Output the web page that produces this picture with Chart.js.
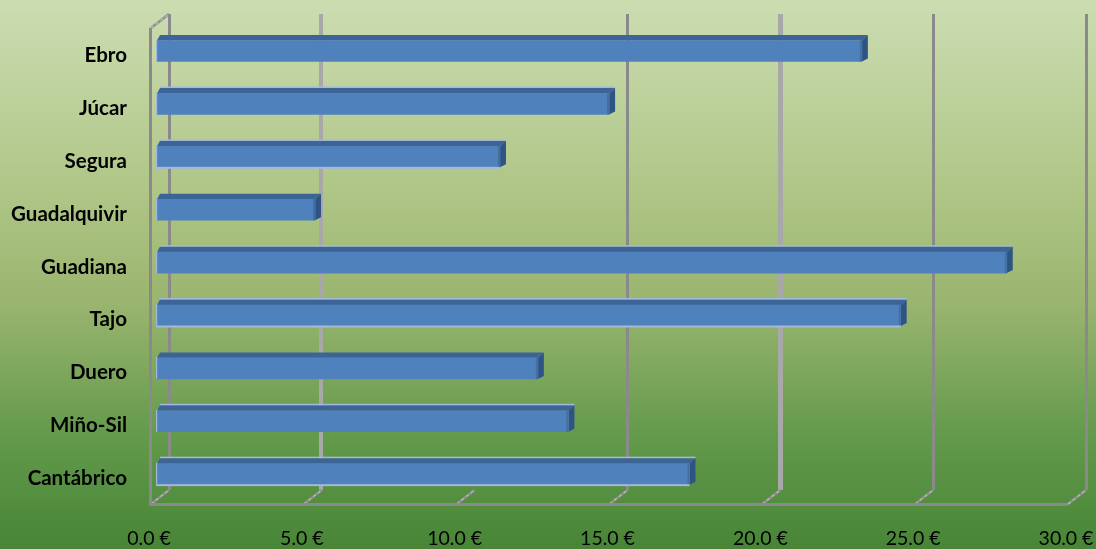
<!DOCTYPE html>
<html><head><meta charset="utf-8">
<style>html,body{margin:0;padding:0;background:#fff}canvas{display:block}</style>
<script src="https://cdn.jsdelivr.net/npm/chart.js@4"></script>
</head><body>
<canvas id="c" width="1096" height="549" style="width:1096px;height:549px"></canvas>
<script>
const categories = ['Ebro','Júcar','Segura','Guadalquivir','Guadiana','Tajo','Duero','Miño-Sil','Cantábrico'];
const values = [23.06,14.79,11.22,5.17,27.8,24.33,12.46,13.46,17.42];
const xTicks = [0,5,10,15,20,25,30];

const FRONT='#4f81bd', TOP='#3c6496', SIDE='#2f5484', STRIP='#44709f', EDGE='#a3b9da', GRID='#8a8a8a', LIGHT='#a8a8a8';
const BAR_DX=6, BAR_DY=-3.4, BACK_DX=18, BACK_DY=-14, DEPTH=6;
const wall = {0:[3,GRID],5:[4,LIGHT],15:[3,GRID],20:[5,LIGHT],25:[3,GRID],30:[3,GRID]};
const lightTop = [0,1,1,0,1,1,0,1,1], lightBottom=[0,0,1,0,0,1,0,0,1];

const scene = {
  id:'scene',
  beforeDraw(chart){
    const {ctx,scales:{x},chartArea:a}=chart;
    const g=ctx.createLinearGradient(0,0,0,549);
    g.addColorStop(0,'#ccddb2');g.addColorStop(.36,'#aec585');g.addColorStop(.55,'#9ab56f');
    g.addColorStop(.8,'#62994b');g.addColorStop(1,'#488536');
    ctx.fillStyle=g;ctx.fillRect(0,0,1096,549);
    const diag=(px,py)=>{
      ctx.beginPath();ctx.moveTo(px,py);ctx.lineTo(px+BACK_DX,py+BACK_DY);
      ctx.lineWidth=2.6;ctx.strokeStyle='#8f8f8f';ctx.stroke();
      ctx.lineWidth=1.2;ctx.setLineDash([3,3]);ctx.strokeStyle='#bdbdbd';ctx.stroke();ctx.setLineDash([]);
    };
    xTicks.forEach(v=>{
      const px=x.getPixelForValue(v), bx=Math.round(px+BACK_DX-.5);
      const w=wall[v];
      if(w){
        const l=Math.round(bx-w[0]/2);
        ctx.fillStyle=w[1];ctx.fillRect(l,a.top+BACK_DY,w[0],a.height);
      }
      diag(px,a.bottom);
    });
    const x0=x.getPixelForValue(0);
    diag(x0,a.top);
    ctx.fillStyle=GRID;
    ctx.fillRect(Math.round(x0)-2,a.top,3,a.height);
    ctx.fillRect(Math.round(x0)-2,a.bottom-1,x.getPixelForValue(30)-x0+2,3);
  },
  beforeDatasetDraw(chart){
    const {ctx}=chart;
    ctx.save();ctx.translate(BAR_DX,BAR_DY);
    chart.getDatasetMeta(0).data.forEach((b,i)=>{
      const p=b.getProps(['x','y','base','height'],true);
      const t=p.y-p.height/2, bt=p.y+p.height/2, s=p.base, e=p.x;
      ctx.fillStyle=TOP;
      ctx.beginPath();ctx.moveTo(s,t);ctx.lineTo(s+3,t-DEPTH+.5);ctx.lineTo(e+DEPTH,t-DEPTH+.5);ctx.lineTo(e,t);ctx.closePath();ctx.fill();
      ctx.fillStyle=SIDE;
      ctx.beginPath();ctx.moveTo(e,t);ctx.lineTo(e+DEPTH,t-DEPTH+.5);ctx.lineTo(e+DEPTH,bt-3);ctx.lineTo(e,bt);ctx.closePath();ctx.fill();
      if(lightTop[i]){ctx.fillStyle=EDGE;ctx.fillRect(s+3,t-DEPTH-1,e+DEPTH-s-3,1.5);}
    });
  },
  afterDatasetDraw(chart){
    const {ctx}=chart;
    chart.getDatasetMeta(0).data.forEach((b,i)=>{
      const p=b.getProps(['x','y','base','height'],true);
      const t=p.y-p.height/2, bt=p.y+p.height/2, s=p.base, e=p.x;
      ctx.fillStyle=STRIP;ctx.fillRect(e-2,t,2,p.height);
      ctx.fillStyle=EDGE;ctx.fillRect(s-1,t-1,1.2,p.height+1);
      if(lightBottom[i])ctx.fillRect(s-1,bt-.5,e-s+1,2);
    });
    ctx.restore();
  }
};

new Chart(document.getElementById('c'),{
  type:'bar',
  data:{labels:categories,datasets:[{data:values,backgroundColor:FRONT,borderWidth:0,barThickness:21,clip:false}]},
  options:{
    indexAxis:'y',responsive:false,animation:false,devicePixelRatio:1,
    layout:{padding:{left:0,right:28,top:28,bottom:0}},
    plugins:{legend:{display:false},tooltip:{enabled:false},title:{display:false}},
    scales:{
      y:{
        grid:{display:false,drawTicks:false},border:{display:false},
        afterFit(s){s.width=151;s.paddingTop=0;s.paddingBottom=0;},
        ticks:{color:'#000',padding:24,labelOffset:1,font:{family:'Lato',weight:'bold',size:20.5}}
      },
      x:{
        min:0,max:30,
        grid:{display:false,drawTicks:false},border:{display:false},
        afterFit(s){s.height=45;s.paddingLeft=0;s.paddingRight=0;},
        afterBuildTicks(s){s.ticks=xTicks.map(v=>({value:v}));},
        ticks:{color:'#000',padding:23,labelOffset:-2,maxRotation:0,autoSkip:false,
          font:{family:'Lato',size:19.5},
          callback:v=>v.toFixed(1)+' €'}
      }
    }
  },
  plugins:[scene]
});
</script>
</body></html>
